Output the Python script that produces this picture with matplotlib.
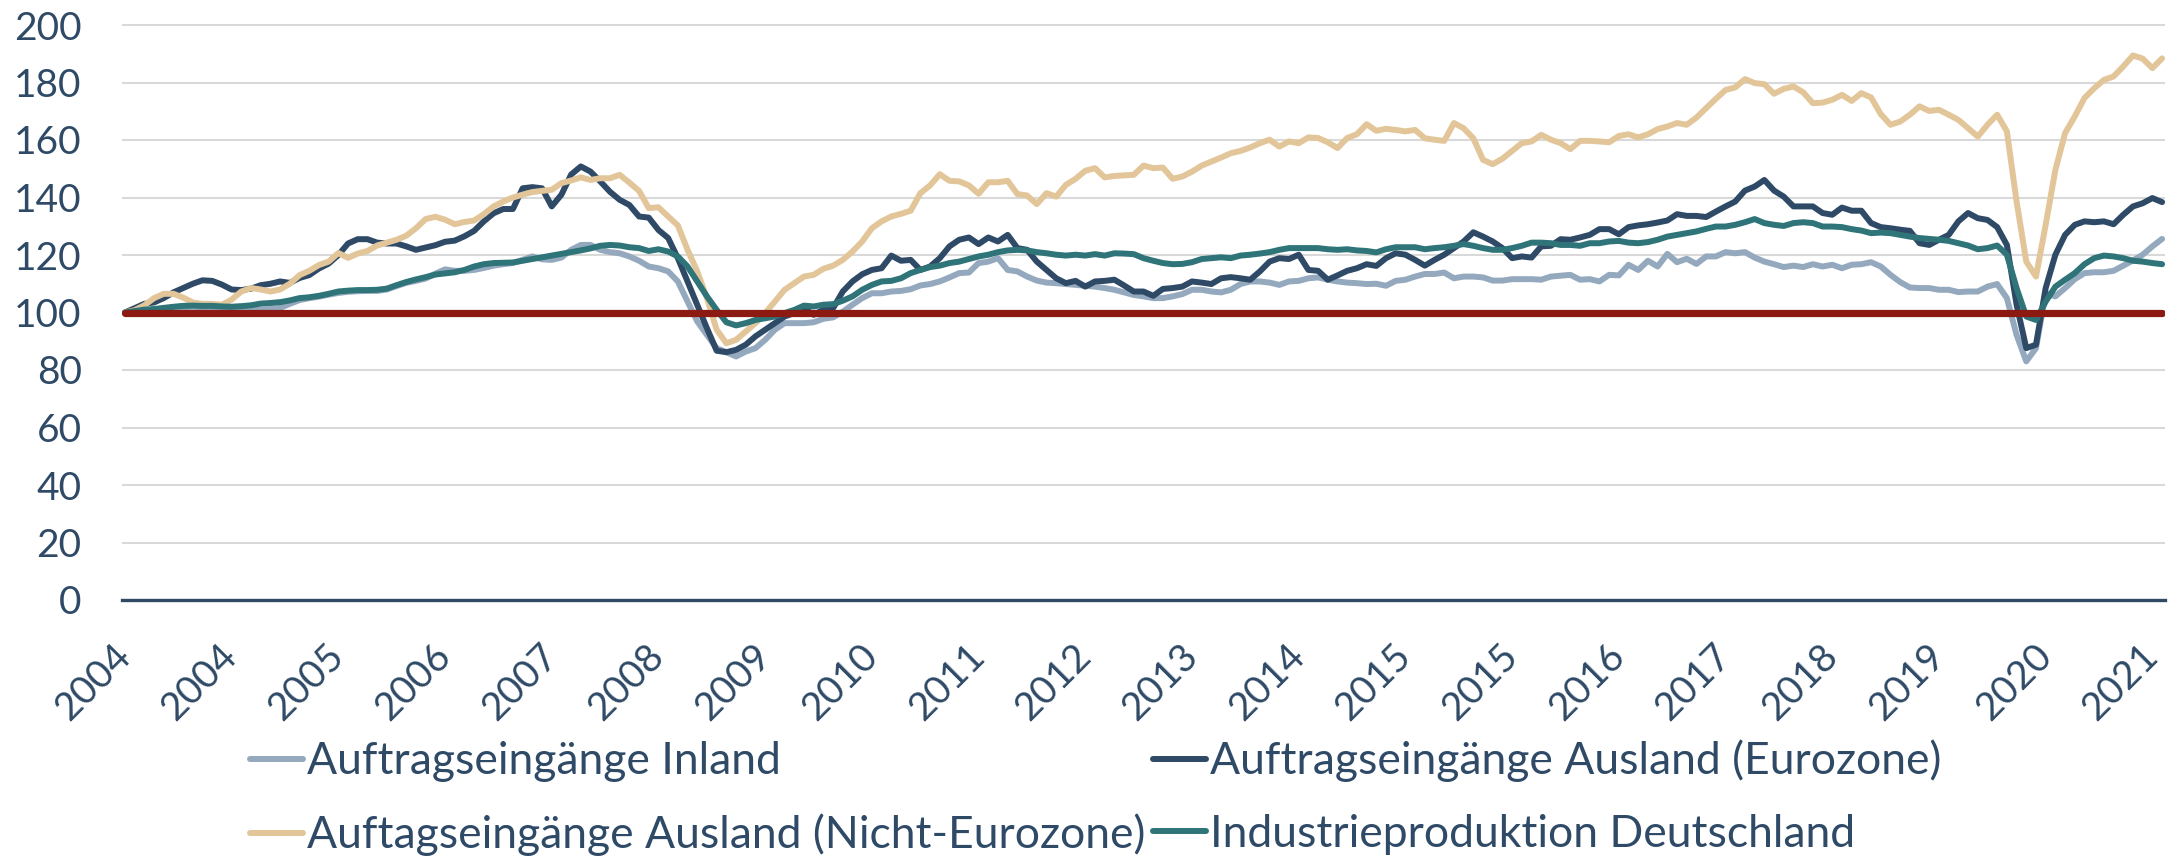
import matplotlib.pyplot as plt
import pandas as pd
import numpy as np

plt.rcParams['font.family'] = ['Lato', 'DejaVu Sans']

# Monatsdaten Jan 2004 - Jul 2021 (Index 2004 = 100)
monate = pd.date_range('2004-01-01', periods=211, freq='MS')

inland = [
    100, 100.3, 100.6, 101, 101.3, 101.6, 101.8, 102, 101.8, 101.5, 101.2, 101, 101, 101, 101, 101.2, 101.6, 103,
    104.3, 105, 105.5, 106.2, 106.8, 107.2, 107.4, 107.5, 107.5, 108, 109.2, 110.3, 111, 111.8, 113.5, 115, 114.5, 114.5,
    114.8, 115.5, 116.3, 116.8, 117.2, 118.3, 119.5, 118.5, 118.3, 119.1, 121.8, 123.5, 123.5, 121.8, 121, 120.6, 119.5,
    118, 116, 115.4, 114.3, 110.8, 103.8, 96.9, 92.2, 87.6, 86.2, 84.7, 86.4, 87.6, 90.5, 94, 96.3, 96.3, 96.3,
    96.6, 97.8, 98.3, 100.3, 102.7, 105, 106.7, 106.7, 107.3, 107.5, 108.1, 109.4, 109.9, 110.8, 112.2, 113.7, 113.9,
    117.2, 117.7, 118.9, 114.8, 114.3, 112.5, 111.1, 110.4, 110.2, 109.9, 109.6, 109.3, 109, 108.5, 107.9, 107, 106.1, 105.6,
    105, 105, 105.6, 106.4, 107.9, 107.9, 107.3, 107, 107.9, 109.9, 110.8, 110.8, 110.4, 109.6, 110.8, 111, 111.9, 112.2,
    111.4, 110.8, 110.4, 110.2, 109.9, 110, 109.3, 111, 111.4, 112.5, 113.4, 113.4, 113.9, 111.9, 112.5, 112.5, 112.2,
    111.1, 111.1, 111.6, 111.6, 111.6, 111.4, 112.5, 112.8, 113.1, 111.4, 111.6, 110.8, 113.1, 112.9, 116.6, 114.8, 118,
    116, 120.4, 117.5, 118.7, 116.9, 119.5, 119.5, 121, 120.6, 121, 119.1, 117.7, 116.8, 115.8, 116.3, 115.8, 116.8, 116,
    116.6, 115.4, 116.6, 116.8, 117.5, 116, 113.1, 110.6, 108.7, 108.5, 108.5, 107.9, 107.9, 107.1, 107.3, 107.3, 109,
    109.9, 105, 92.2, 83, 87.6, 106.7, 105.6, 108.5, 111.6, 113.7, 114, 114, 114.5, 116.3, 118.1, 120.1, 123, 125.6,
]

eurozone = [
    100, 101.5, 103, 103.5, 105, 107, 108.5, 110, 111.2, 111, 109.7, 108, 107.8, 108.3, 109.5, 110, 110.8, 110.3,
    112, 113, 115.3, 117, 120, 124, 125.5, 125.5, 124.3, 124, 124, 123, 121.8, 122.6, 123.4, 124.6, 125, 126.5,
    128.4, 131.7, 134.5, 136, 136, 143.2, 143.6, 143.2, 136.9, 141, 148, 150.8, 149, 145.6, 142, 139.2, 137.4,
    133.4, 133, 128.7, 125.9, 118.9, 110.8, 102.7, 94.5, 86.7, 86.2, 87, 88.8, 91.7, 94, 96.3, 98.6, 99.8, 101.5,
    99.2, 101, 101.5, 107.3, 110.8, 113.3, 114.8, 115.4, 119.8, 118, 118.3, 114.8, 116, 118.9, 123, 125.3, 126.1,
    123.8, 126.1, 124.7, 127, 122.4, 121.8, 117.7, 114.8, 111.9, 110.2, 111, 109, 110.8, 111, 111.4, 109.4, 107.3, 107.3,
    105.8, 108.2, 108.5, 109, 110.8, 110.4, 109.9, 111.9, 112.3, 111.9, 111.4, 114.3, 117.7, 118.9, 118.6, 120.1, 114.8,
    114.5, 111.4, 112.9, 114.5, 115.4, 116.8, 116.2, 118.9, 120.6, 120.1, 118.3, 116.3, 118.3, 120.1, 122.4, 124.7, 127.9, 126.4,
    124.7, 122.4, 118.9, 119.5, 119.1, 123, 123.2, 125.5, 125.3, 126.1, 127, 129, 129, 127.2, 129.7, 130.3, 130.7,
    131.3, 132, 134.2, 133.6, 133.6, 133.2, 135.1, 136.9, 138.6, 142.4, 143.8, 146.1, 142.4, 140.3, 136.9, 136.9, 136.9, 134.6,
    134, 136.5, 135.4, 135.4, 131.1, 129.7, 129.3, 128.8, 128.4, 124.1, 123.5, 125.3, 127, 131.7, 134.6, 132.8, 132.2,
    129.7, 123.5, 102.7, 87.6, 88.8, 108.5, 120.1, 127, 130.5, 131.7, 131.4, 131.7, 130.7, 134, 136.9, 138, 139.8, 138.4,
]

nicht_eurozone = [
    100, 100.8, 102.5, 105, 106.5, 106.5, 105.2, 103.5, 103, 103, 102.7, 104.5, 107.3, 108.5, 108, 107.3, 108, 110,
    113, 114.5, 116.5, 117.7, 120.7, 119, 120.5, 121.4, 123.3, 124.3, 125.3, 126.7, 129.3, 132.5, 133.3, 132.3, 130.7, 131.5,
    132, 134.2, 136.9, 138.6, 140, 141, 141.9, 142.3, 142.7, 145, 145.9, 147, 146.1, 146.7, 146.7, 147.9, 145.2,
    142.3, 136.3, 136.6, 133.4, 130.3, 121.8, 114.3, 105, 94, 89.3, 90.5, 93.4, 96.3, 99.8, 103.8, 107.9, 110.2, 112.5,
    113.1, 115.2, 116.3, 118.3, 121.2, 124.7, 129.3, 131.7, 133.4, 134.3, 135.4, 141.5, 144.2, 148.1, 145.8, 145.6, 144.2,
    141.3, 145.3, 145.3, 145.8, 141.2, 140.7, 137.7, 141.5, 140.3, 144.4, 146.5, 149.3, 150.2, 147, 147.5, 147.7, 147.9, 151.1,
    150.2, 150.4, 146.5, 147.3, 149, 151.1, 152.5, 153.9, 155.4, 156.2, 157.4, 158.9, 160.1, 157.7, 159.5, 158.9, 160.9,
    160.7, 159.2, 157.2, 160.7, 162, 165.5, 163.2, 163.9, 163.5, 163, 163.5, 160.6, 160.1, 159.7, 165.9, 164.1, 160.6, 153.1,
    151.6, 153.5, 156.2, 158.9, 159.5, 161.8, 160.1, 158.9, 156.8, 159.7, 159.7, 159.5, 159.2, 161.4, 162, 160.9, 162,
    163.8, 164.7, 165.9, 165.3, 167.8, 171.1, 174.3, 177.4, 178.3, 181.2, 179.8, 179.4, 176.1, 177.8, 178.6, 176.6, 172.8, 173,
    174, 175.7, 173.6, 176.3, 174.8, 169, 165.3, 166.4, 168.8, 171.7, 170.1, 170.5, 168.8, 167, 164.1, 161.2, 165.3,
    168.8, 163, 138.6, 117.7, 112.5, 130.5, 149.6, 162.4, 168.2, 174.6, 178, 180.9, 182.1, 185.6, 189.4, 188.3, 185, 188.4,
]

industrie = [
    100, 100.5, 101, 101.2, 101.6, 102, 102.3, 102.4, 102.3, 102.3, 102.1, 102, 102.2, 102.5, 103.1, 103.3, 103.6, 104.2,
    105, 105.3, 105.8, 106.5, 107.3, 107.6, 107.8, 107.8, 107.9, 108.3, 109.5, 110.6, 111.5, 112.3, 113.2, 113.6, 114, 114.8,
    116, 116.8, 117.2, 117.3, 117.4, 118, 118.6, 119.2, 119.8, 120.4, 121, 121.6, 122.3, 123.2, 123.5, 123.3, 122.7,
    122.4, 121.4, 122, 121.2, 119.5, 116, 110.8, 105.6, 100.9, 96.6, 95.5, 96.3, 97.4, 98, 98.6, 99.8, 100.9, 102.4,
    102.1, 102.7, 102.9, 104.1, 105.6, 107.9, 109.6, 110.8, 111, 111.9, 113.7, 114.8, 115.8, 116.3, 117.2, 117.7, 118.6,
    119.5, 120.1, 121, 121.6, 121.8, 121.6, 121, 120.6, 120.1, 119.8, 120.1, 119.8, 120.3, 119.8, 120.6, 120.5, 120.3, 118.9,
    118, 117.2, 116.8, 116.9, 117.5, 118.6, 118.9, 119.2, 118.9, 119.8, 120.1, 120.5, 121, 121.8, 122.4, 122.4, 122.4,
    122.4, 122, 121.8, 122, 121.6, 121.4, 120.9, 122, 122.7, 122.7, 122.7, 122, 122.4, 122.7, 123.2, 123.8, 123.2, 122.4,
    121.8, 121.8, 122.4, 123.2, 124.3, 124.3, 124.1, 123.5, 123.5, 123.2, 124.1, 124.1, 124.7, 124.9, 124.3, 124.1, 124.5,
    125.3, 126.4, 127, 127.6, 128.2, 129.1, 129.9, 129.9, 130.5, 131.4, 132.5, 131.1, 130.5, 130.1, 131.1, 131.4, 131.1, 129.9,
    129.9, 129.7, 129, 128.5, 127.6, 127.8, 127.6, 127, 126.4, 125.9, 125.6, 125.3, 124.9, 124.1, 123.3, 122, 122.4,
    123.3, 120.1, 108.5, 98.6, 97.4, 103.8, 109, 111.4, 113.7, 116.8, 118.9, 119.8, 119.5, 118.9, 118, 117.7, 117.2, 116.8,
]

basis = [100] * len(monate)

namen = ['Auftragseingänge Inland', 'Auftragseingänge Ausland (Eurozone)',
         'Auftagseingänge Ausland (Nicht-Eurozone)', 'Industrieproduktion Deutschland']
farben = ['#94A9BE', '#2F4A66', '#E2C699', '#2E7478']

navy = '#2F4A66'
x = np.arange(len(monate))

fig = plt.figure(figsize=(21.74, 8.6), dpi=100)
ax = fig.add_axes([122 / 2174, 1 - 600 / 860, (2165 - 122) / 2174, 201 * 2.875 / 860])

linien = []
for werte, name, farbe in zip([inland, eurozone, nicht_eurozone, industrie], namen, farben):
    l, = ax.plot(np.arange(len(werte)), werte, color=farbe, lw=4.3, label=name,
                 solid_capstyle='round', solid_joinstyle='round')
    linien.append(l)
ax.plot(x, basis, color='#8C1A13', lw=5.2, solid_capstyle='round')

ax.set_ylim(0, 201)
ax.set_yticks(range(0, 201, 20))
ax.set_xlim(-0.3, 210.3)
ax.grid(axis='y', color='#D9D9D9', lw=1.5)
ax.set_axisbelow(True)
for s in ['top', 'right', 'left']:
    ax.spines[s].set_visible(False)
ax.spines['bottom'].set_color(navy)
ax.spines['bottom'].set_linewidth(2.4)

ax.tick_params(axis='y', length=0, pad=29, labelsize=28, labelcolor=navy)
ax.set_xticks(x[::11])
ax.set_xticklabels([str(d.year) for d in monate[::11]], rotation=45, ha='right', va='center',
                   rotation_mode='anchor')
ax.tick_params(axis='x', length=0, pad=36, labelsize=28, labelcolor=navy)

fig.legend(handles=[linien[0], linien[2], linien[1], linien[3]], ncol=2, loc='center',
           bbox_to_anchor=(0.504, 1 - 798 / 860), frameon=False, fontsize=32,
           handlelength=1.2, handletextpad=0.1, columnspacing=0.15, labelspacing=0.7,
           labelcolor=navy)

fig.savefig('out.png', dpi=100)
